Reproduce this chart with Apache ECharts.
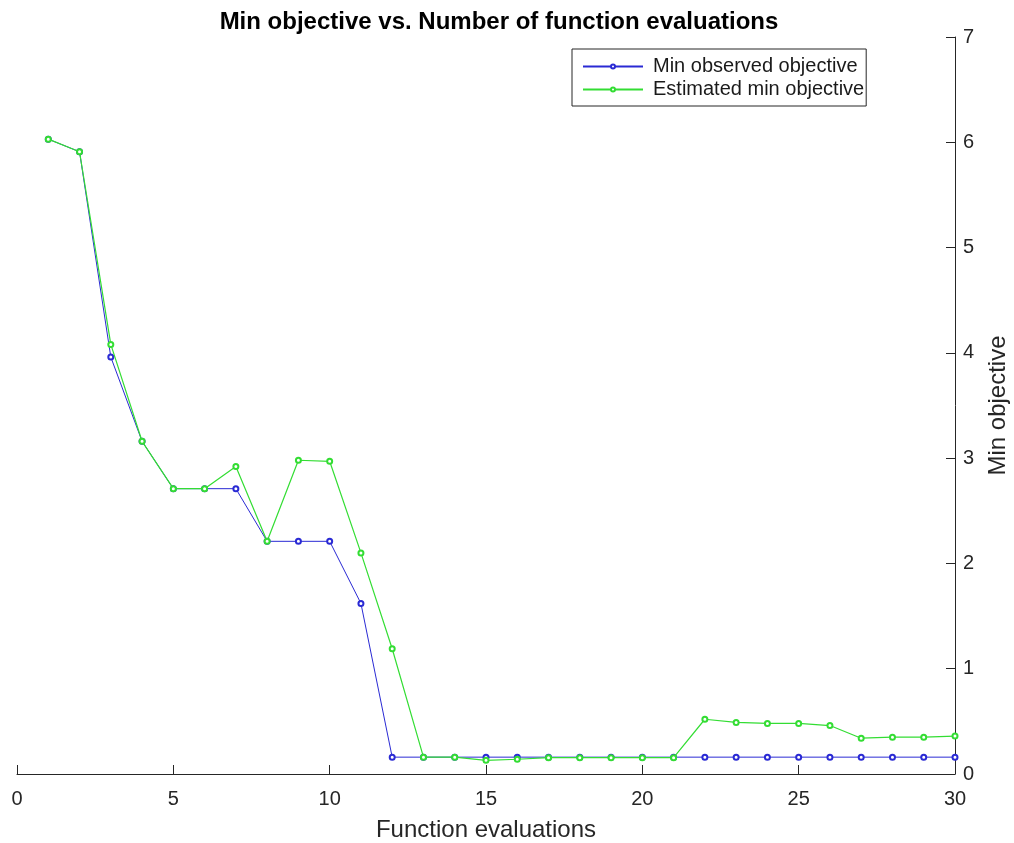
<!DOCTYPE html>
<html>
<head>
<meta charset="utf-8">
<script src="https://cdn.jsdelivr.net/npm/echarts@6/dist/echarts.min.js"></script>
<style>
html,body{margin:0;padding:0;background:#fff;}
#chart{width:1014px;height:843px;}
</style>
</head>
<body>
<div id="chart"></div>
<script>
const evaluations = [1,2,3,4,5,6,7,8,9,10,11,12,13,14,15,16,17,18,19,20,21,22,23,24,25,26,27,28,29,30];
const minObserved = [6.03,5.91,3.96,3.16,2.71,2.71,2.71,2.21,2.21,2.21,1.62,0.16,0.16,0.16,0.16,0.16,0.16,0.16,0.16,0.16,0.16,0.16,0.16,0.16,0.16,0.16,0.16,0.16,0.16,0.16];
const estimatedMin = [6.03,5.91,4.08,3.16,2.71,2.71,2.92,2.21,2.98,2.97,2.10,1.19,0.16,0.16,0.13,0.14,0.155,0.155,0.155,0.155,0.155,0.52,0.49,0.48,0.48,0.46,0.34,0.35,0.35,0.36];
const xTicks = [0,5,10,15,20,25,30];
const yTicks = [0,1,2,3,4,5,6,7];

const font = "'Liberation Sans', Arial, Helvetica, sans-serif";
const axisColor = '#262626';
const chart = echarts.init(document.getElementById('chart'));
const pair = (ys) => evaluations.map((x, i) => [x, ys[i]]);

chart.setOption({
  backgroundColor: '#fff',
  animation: false,
  title: {
    text: 'Min objective vs. Number of function evaluations',
    left: 494, top: 5, textAlign: 'center',
    textStyle: {fontFamily: font, fontSize: 24, fontWeight: 'bold', color: '#000'}
  },
  legend: {
    left: 572, top: 49,
    orient: 'vertical',
    itemWidth: 60, itemHeight: 5, itemGap: 2,
    padding: [7, 2, 6, 10],
    borderColor: '#262626', borderWidth: 1, backgroundColor: '#fff',
    textStyle: {fontFamily: font, fontSize: 20, lineHeight: 21, color: '#1a1a1a', padding: [0, 0, 0, 5]},
    data: ['Min observed objective', 'Estimated min objective']
  },
  grid: {left: 17, right: 59, top: 37, bottom: 69, containLabel: false, outerBoundsMode: 'none'},
  xAxis: {
    type: 'value', min: 0, max: 30, interval: 5,
    name: 'Function evaluations', nameLocation: 'middle', nameGap: 44,
    nameTextStyle: {fontFamily: font, fontSize: 24, color: axisColor},
    axisLine: {show: true, lineStyle: {color: axisColor, width: 1}},
    axisTick: {show: true, inside: true, length: 9, lineStyle: {color: axisColor}},
    axisLabel: {fontFamily: font, fontSize: 20, color: axisColor, margin: 15,
      formatter: v => xTicks.includes(v) ? String(v) : ''},
    splitLine: {show: false}
  },
  yAxis: {
    type: 'value', position: 'right', min: 0, max: 7, interval: 1,
    name: 'Min objective', nameLocation: 'middle', nameGap: 31, nameRotate: 90,
    nameTextStyle: {fontFamily: font, fontSize: 24, color: axisColor},
    axisLine: {show: true, onZero: false, lineStyle: {color: axisColor, width: 1}},
    axisTick: {show: true, inside: true, length: 9, lineStyle: {color: axisColor}},
    axisLabel: {fontFamily: font, fontSize: 20, color: axisColor, margin: 8,
      formatter: v => yTicks.includes(v) ? String(v) : ''},
    splitLine: {show: false}
  },
  series: [
    {
      name: 'Min observed objective', type: 'line', data: pair(minObserved),
      symbol: 'emptyCircle', symbolSize: 5, z: 2,
      lineStyle: {color: '#2a2ad4', width: 1},
      itemStyle: {color: '#2a2ad4', borderWidth: 1}
    },
    {
      name: 'Estimated min objective', type: 'line', data: pair(estimatedMin),
      symbol: 'emptyCircle', symbolSize: 5, z: 3,
      lineStyle: {color: '#33dd33', width: 1.2},
      itemStyle: {color: '#33dd33', borderWidth: 1}
    }
  ]
});
</script>
</body>
</html>
